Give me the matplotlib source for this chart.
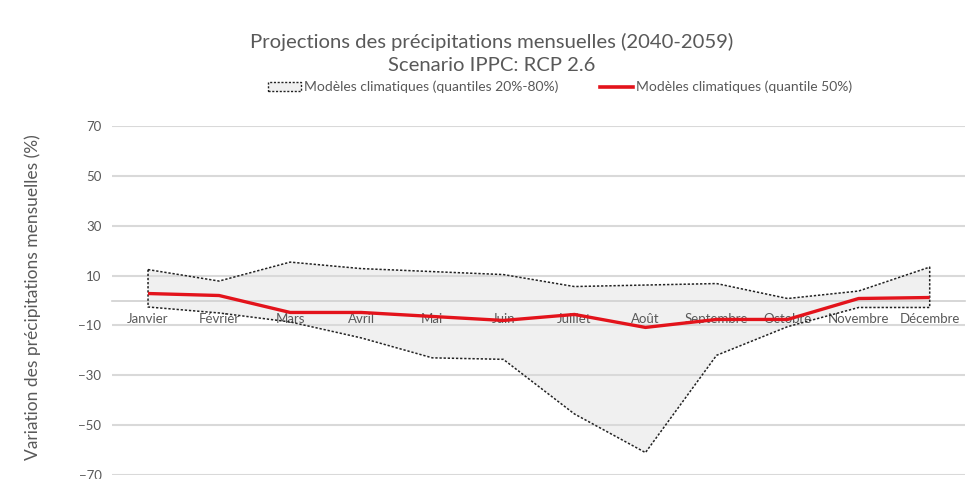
import numpy as np
import matplotlib
matplotlib.use("Agg")
import matplotlib.pyplot as plt
from matplotlib.patches import Patch
from matplotlib.lines import Line2D

months = ["Janvier", "Février", "Mars", "Avril", "Mai", "Juin", "Juillet",
          "Août", "Septembre", "Octobre", "Novembre", "Décembre"]
q80 = [12.4, 7.8, 15.4, 12.8, 11.6, 10.4, 5.6, 6.2, 6.8, 0.8, 3.8, 13.4]
q20 = [-2.6, -5.0, -8.6, -15.0, -23.0, -23.6, -45.5, -61.0, -22.0, -10.5, -2.8, -2.8]
q50 = [2.8, 2.0, -4.8, -4.8, -6.4, -8.0, -5.6, -10.8, -7.6, -7.6, 0.8, 1.2]
yticks = [-70, -50, -30, -10, 10, 30, 50, 70]

plt.rcParams['font.family'] = ['Lato', 'DejaVu Sans']
grey = '#595959'

fig = plt.figure(figsize=(9.74, 4.79), dpi=100)
ax = fig.add_axes([0.1155, 0.0083, 0.8755, 0.7287])

x = np.arange(len(months))
# band outline (polygon incl. vertical edges)
px = np.concatenate([x, x[::-1], x[:1]])
py = np.concatenate([q80, q20[::-1], q80[:1]])
ax.fill(px, py, facecolor='#f0f0f0', edgecolor='none', zorder=1)
ax.plot(px, py, color='#222222', lw=1.1, ls=(0, (1.5, 1.2)), zorder=3)
ax.plot(x, q50, color='#e3131b', lw=2.4, zorder=4, solid_capstyle='butt')

ax.set_xlim(-0.5, len(months) - 0.5)
ax.set_ylim(-70, 70)
ax.set_yticks(yticks)
ax.set_xticks(x)
ax.set_xticklabels(months)
ax.yaxis.grid(True, color='#d9d9d9', lw=1.5)
ax.set_axisbelow(False)
for s in ['top', 'right', 'left']:
    ax.spines[s].set_visible(False)
ax.spines['bottom'].set_position(('data', 0))
ax.spines['bottom'].set_color('#d0d0d0')
ax.spines['bottom'].set_linewidth(1.2)
ax.tick_params(axis='both', length=0, colors=grey, labelsize=9.5)
ax.tick_params(axis='x', pad=9)
ax.tick_params(axis='y', pad=8)
ax.set_ylabel("Variation des précipitations mensuelles (%)", color=grey,
              fontsize=12.5)
ax.yaxis.set_label_coords(-0.084, 0.51)

fig.text(0.505, 0.912, "Projections des précipitations mensuelles (2040-2059)",
         ha='center', va='center', fontsize=14.6, color=grey)
fig.text(0.505, 0.864, "Scenario IPPC: RCP 2.6",
         ha='center', va='center', fontsize=14.6, color=grey)

handles = [Patch(facecolor='#f0f0f0', edgecolor='#222222', ls=(0, (1.5, 1.2)), lw=1.0),
           Line2D([0], [0], color='#e3131b', lw=2.6)]
labels = ["Modèles climatiques (quantiles 20%-80%)",
          "Modèles climatiques (quantile 50%)"]
fig.legend(handles, labels, loc='center', bbox_to_anchor=(0.575, 0.818), ncol=2,
           frameon=False, fontsize=10, labelcolor=grey, handlelength=2.4,
           handleheight=0.6, handletextpad=0.2, columnspacing=3)

fig.savefig("out.png", dpi=100, facecolor='white')
